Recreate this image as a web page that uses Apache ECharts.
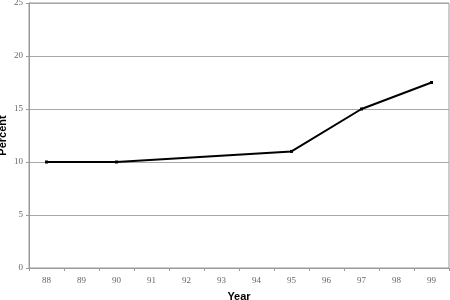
<!DOCTYPE html>
<html><head><meta charset="utf-8">
<script src="https://cdn.jsdelivr.net/npm/echarts@6/dist/echarts.min.js"></script>
<style>html,body{margin:0;padding:0;background:#fff}#c{width:450px;height:300px}</style>
</head><body><div id="c"></div>
<script>
var categories = ['88','89','90','91','92','93','94','95','96','97','98','99'];
var percentValues = [10, null, 10, null, null, null, null, 11, null, 15, null, 17.5];
var yTicks = [0, 5, 10, 15, 20, 25];

var chart = echarts.init(document.getElementById('c'), null, {renderer: 'canvas'});
chart.setOption({
  animation: false,
  backgroundColor: '#fff',
  grid: {left: 29, right: 1, top: 3, bottom: 32, containLabel: false, outerBoundsMode: 'none',
         show: true, borderColor: '#999', borderWidth: 1},
  xAxis: {
    type: 'category', data: categories, boundaryGap: true,
    name: 'Year', nameLocation: 'middle', nameGap: 23, nameMoveOverlap: false,
    nameTextStyle: {fontFamily: 'Liberation Sans', fontWeight: 'bold', fontSize: 11, color: '#000'},
    axisLine: {lineStyle: {color: '#999'}},
    axisTick: {show: true, length: 3, lineStyle: {color: '#999'}},
    axisLabel: {fontFamily: 'Liberation Serif', fontSize: 9, color: '#666', margin: 8}
  },
  yAxis: {
    type: 'value', min: yTicks[0], max: yTicks[yTicks.length - 1], interval: 5,
    name: 'Percent', nameLocation: 'middle', nameGap: 21, nameRotate: 90, nameMoveOverlap: false,
    nameTextStyle: {fontFamily: 'Liberation Sans', fontWeight: 'bold', fontSize: 11, color: '#000'},
    axisLine: {show: true, lineStyle: {color: '#999'}},
    axisTick: {show: true, length: 3, lineStyle: {color: '#999'}},
    splitLine: {lineStyle: {color: '#a8a8a8', width: 1}},
    axisLabel: {fontFamily: 'Liberation Serif', fontSize: 9, color: '#666', margin: 6}
  },
  series: [{
    type: 'line', data: percentValues, connectNulls: true,
    symbol: 'rect', symbolSize: 3,
    lineStyle: {color: '#000', width: 2},
    itemStyle: {color: '#000'}
  }]
});
</script></body></html>
